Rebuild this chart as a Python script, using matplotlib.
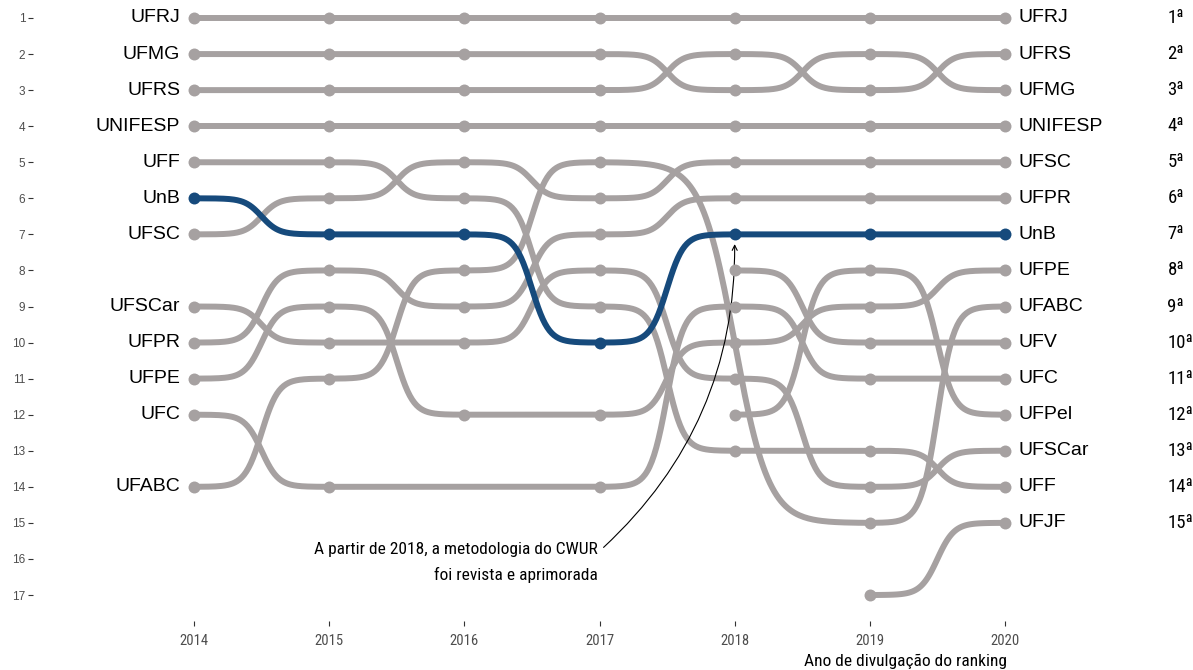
import numpy as np
import matplotlib
matplotlib.use("Agg")
import matplotlib.pyplot as plt
from matplotlib import font_manager

# ---------------- data (rank of each university per CWUR edition) ----------------
years = [2014, 2015, 2016, 2017, 2018, 2019, 2020]
nan = np.nan
UFRJ    = [1, 1, 1, 1, 1, 1, 1]
UFMG    = [2, 2, 2, 2, 3, 2, 3]
UFRS    = [3, 3, 3, 3, 2, 3, 2]
UNIFESP = [4, 4, 4, 4, 4, 4, 4]
UFF     = [5, 5, 6, 9, 13, 13, 14]
UnB     = [6, 7, 7, 10, 7, 7, 7]
UFSC    = [7, 6, 5, 6, 5, 5, 5]
UFSCar  = [9, 10, 10, 8, 11, 14, 13]
UFPR    = [10, 8, 9, 7, 6, 6, 6]
UFPE    = [11, 9, 12, 12, 10, 9, 8]
UFC     = [12, 14, nan, 14, 9, 11, 11]
UFABC   = [14, 11, 8, 5, nan, 15, 9]
UFV     = [nan, nan, nan, nan, 8, 10, 10]
UFPel   = [nan, nan, nan, nan, 12, 8, 12]
UFJF    = [nan, nan, nan, nan, nan, 17, 15]

names = ["UFRJ", "UFMG", "UFRS", "UNIFESP", "UFF", "UnB", "UFSC", "UFSCar",
         "UFPR", "UFPE", "UFC", "UFABC", "UFV", "UFPel", "UFJF"]
series = [UFRJ, UFMG, UFRS, UNIFESP, UFF, UnB, UFSC, UFSCar,
          UFPR, UFPE, UFC, UFABC, UFV, UFPel, UFJF]
highlight = "UnB"
rank_ticks = list(range(1, 18))
annotation_lines = ["A partir de 2018, a metodologia do CWUR", "foi revista e aprimorada"]
x_title = "Ano de divulgação do ranking"

# ---------------- fonts ----------------
available = {f.name for f in font_manager.fontManager.ttflist}
plt.rcParams["font.family"] = ["Liberation Sans", "DejaVu Sans"]
narrow_kw = {"family": ["Liberation Sans", "DejaVu Sans"]}
narrow_scale = 0.9
for cand in ["Liberation Sans Narrow", "Roboto Condensed", "Open Sans Condensed"]:
    if cand in available:
        narrow_kw = {"family": [cand, "DejaVu Sans"]}
        narrow_scale = 1.0
        break

GREY = "#a6a1a1"
BLUE = "#164a7c"

# ---------------- figure / axes layout ----------------
W, H = 1193, 670
fig = plt.figure(figsize=(W / 100, H / 100), dpi=100)
px_left, px_right, px_top, px_bot = 33, 1193, 0, 621
ax = fig.add_axes([px_left / W, (H - px_bot) / H, (px_right - px_left) / W, (px_bot - px_top) / H])
ppy = (1005 - 194) / 6.0
ppr = (595 - 18) / 16.0
ax.set_xlim(2014 - (194 - px_left) / ppy, 2020 + (px_right - 1005) / ppy)
ax.set_ylim(17 + (px_bot - 595) / ppr, 1 - (18 - px_top) / ppr)


def bump(x0, x1, y0, y1, smooth=8, n=120):
    t = np.linspace(-smooth, smooth, n)
    s = np.exp(t) / (np.exp(t) + 1)
    s = (s - s[0]) / (s[-1] - s[0])
    return x0 + (t + smooth) / (2 * smooth) * (x1 - x0), y0 + s * (y1 - y0)


for name, vals in zip(names, series):
    pts = [(x, v) for x, v in zip(years, vals) if not np.isnan(v)]
    xs, ys = [], []
    for (xa, ya), (xb, yb) in zip(pts[:-1], pts[1:]):
        cx, cy = bump(xa, xb, ya, yb)
        xs.extend(cx)
        ys.extend(cy)
    col = BLUE if name == highlight else GREY
    z = 3 if name == highlight else 2
    if xs:
        ax.plot(xs, ys, color=col, lw=4.3, solid_capstyle="round", zorder=z)
    ax.plot([p[0] for p in pts], [p[1] for p in pts], "o", color=col, ms=8.6,
            mec="none", zorder=z + 2)

    # labels at both ends
    if not np.isnan(vals[0]):
        ax.annotate(name, (years[0], vals[0]), xytext=(-10, 0), textcoords="offset points",
                    ha="right", va="center", fontsize=14, color="black")
    if not np.isnan(vals[-1]):
        ax.annotate(name, (years[-1], vals[-1]), xytext=(9.5, 0), textcoords="offset points",
                    ha="left", va="center", fontsize=14, color="black")
        ax.annotate(f"{int(vals[-1])}ª", (years[-1], vals[-1]), xytext=(117, 0),
                    textcoords="offset points", ha="left", va="center",
                    fontsize=13.5 * narrow_scale, color="black", **narrow_kw)

# ---------------- annotation ----------------
ax.text(2017.0 - 0.01, 15.73, annotation_lines[0], ha="right", va="center",
        fontsize=12.5 * narrow_scale, color="black", **narrow_kw)
ax.text(2017.0 - 0.01, 16.45, annotation_lines[1], ha="right", va="center",
        fontsize=12.5 * narrow_scale, color="black", **narrow_kw)
ax.annotate("", xy=(2018, 7.27), xytext=(2017.03, 15.68),
            arrowprops=dict(arrowstyle="->", connectionstyle="arc3,rad=0.22",
                            color="black", lw=0.8, shrinkA=0, shrinkB=0,
                            mutation_scale=9))

# ---------------- axes styling ----------------
for sp in ax.spines.values():
    sp.set_visible(False)
ax.set_xticks(years)
ax.set_xticklabels([str(y) for y in years])
ax.set_yticks(rank_ticks)
ax.set_yticklabels([str(r) for r in rank_ticks])
ax.tick_params(axis="y", length=3.6, width=0.8, color="#333333", labelcolor="#4d4d4d",
               labelsize=8.5, pad=2)
ax.tick_params(axis="x", length=3.6, width=0.8, color="#333333", labelcolor="#4d4d4d",
               labelsize=10.5 * narrow_scale, pad=6)
for lab in ax.get_xticklabels():
    lab.set_family(narrow_kw["family"])
ax.set_facecolor("white")
fig.text(905 / W, 1 - 661 / H, x_title, ha="center", va="center",
         fontsize=12.5 * narrow_scale, color="black", **narrow_kw)

fig.savefig("out.png", dpi=100, facecolor="white")
